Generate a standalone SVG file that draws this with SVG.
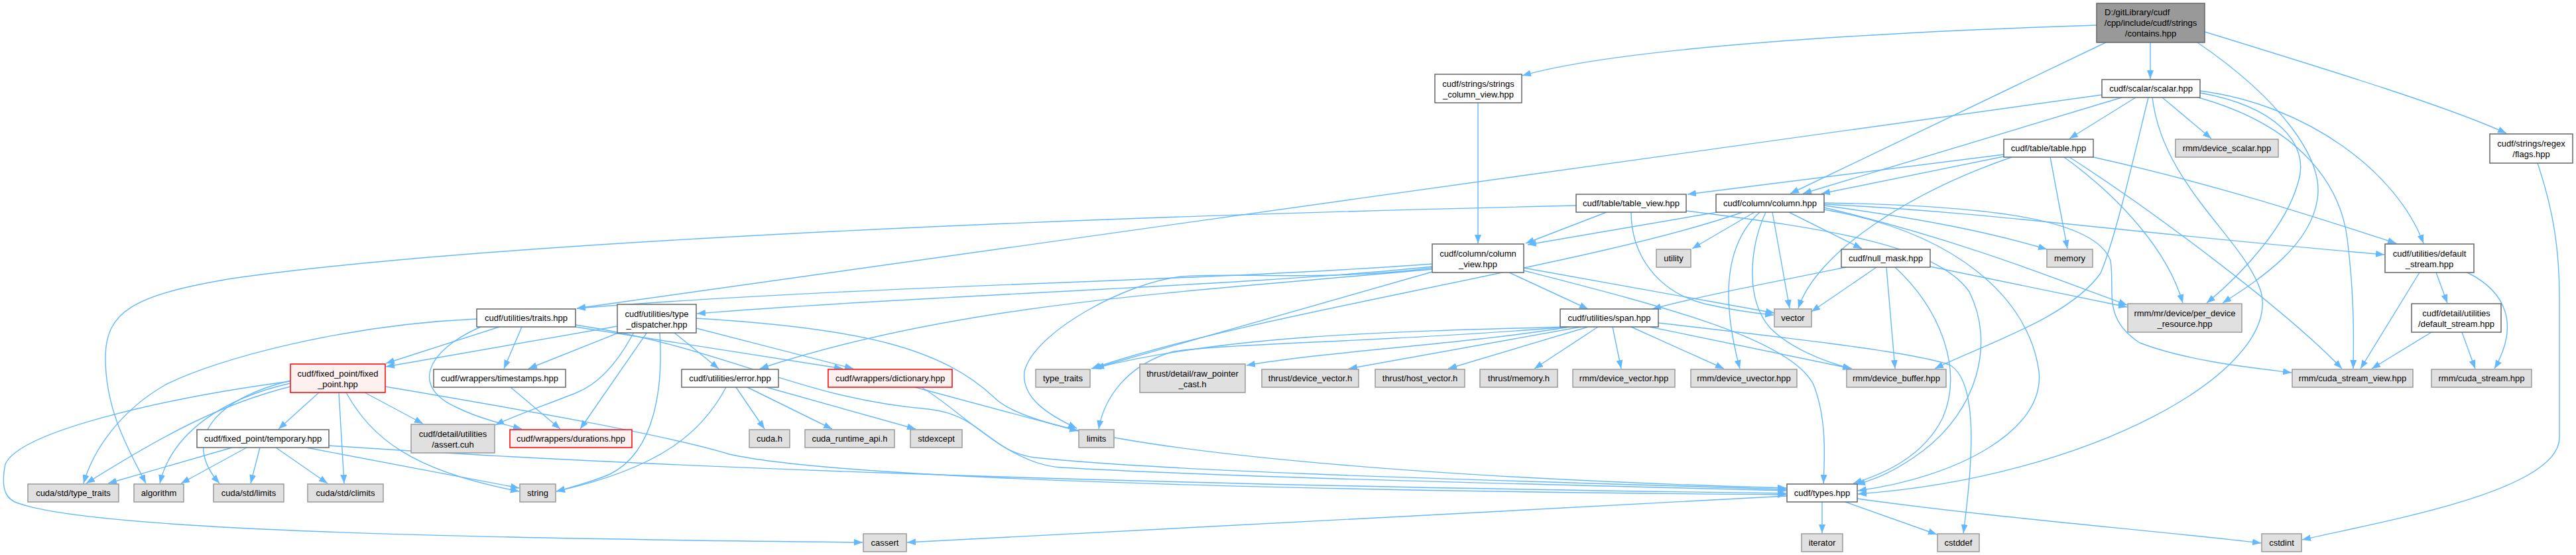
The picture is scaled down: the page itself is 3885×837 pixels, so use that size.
<svg xmlns="http://www.w3.org/2000/svg" width="3885" height="837" viewBox="0 0 3885 837">
<style>
rect{stroke-width:1.5}
.w rect{fill:#fff;stroke:#666}
.g rect{fill:#e0e0e0;stroke:#999}
.r rect{fill:#fff0f0;stroke:#f00}
.root rect{fill:#999;stroke:#666}
text{font-family:"Liberation Sans",Arial,sans-serif;font-size:13px;fill:#000;text-anchor:middle}
#edges path{fill:none;stroke:#63b8ff;stroke-width:1.4;marker-end:url(#a)}
</style>
<defs>
<marker id="a" viewBox="0 0 13 10" refX="13" refY="5" markerWidth="13" markerHeight="10" markerUnits="userSpaceOnUse" orient="auto"><path d="M0,0 L13,5 L0,10 Z" fill="#63b8ff"/></marker>
</defs>
<rect width="3885" height="837" fill="#fff"/>
<g id="edges">
<path d="M3162,38 C2850,48 2450,70 2296,114"/>
<path d="M3176,64 L2700,292"/>
<path d="M3243,64 L3243,119"/>
<path d="M3314,64 C3440,150 3505,240 3495,300 C3485,370 3410,420 3352,457"/>
<path d="M3325,48 C3510,105 3690,160 3780,201"/>
<path d="M2229,155 L2229,367"/>
<path d="M3170,143 C2600,222 1400,390 870,465"/>
<path d="M3200,147 L2719,292"/>
<path d="M3221,147 L3121,209"/>
<path d="M3240,147 C3215,250 3190,360 3168,412 C3120,480 2990,520 2918,556"/>
<path d="M3246,147 C3262,280 3385,360 3410,440 C3440,560 3150,720 2802,745"/>
<path d="M3261,147 L3335,209"/>
<path d="M3318,137 C3480,158 3615,260 3655,367"/>
<path d="M3318,140 C3430,160 3485,215 3466,275 C3448,340 3385,410 3328,457"/>
<path d="M3315,147 C3470,190 3530,280 3540,360 C3550,440 3550,500 3549,556"/>
<path d="M3022,233 L2545,293"/>
<path d="M3022,236 L2747,292"/>
<path d="M3034,237 C2880,290 2740,380 2712,465"/>
<path d="M3092,237 L3118,375"/>
<path d="M3113,237 C3200,300 3270,380 3292,457"/>
<path d="M3121,237 C3250,320 3450,470 3532,556"/>
<path d="M3157,237 C3350,280 3500,330 3614,367"/>
<path d="M2423,320 L2301,367"/>
<path d="M2377,310 C1500,330 700,370 350,420 C200,445 159,470 159,540 C159,620 195,680 220,729"/>
<path d="M2460,320 C2460,385 2500,440 2570,458 C2610,467 2640,472 2675,475"/>
<path d="M2543,318 C2760,345 2920,370 2970,440 C3010,520 2980,620 2900,680 C2860,710 2830,722 2800,731"/>
<path d="M2590,320 L2304,369"/>
<path d="M2628,320 C2400,400 1900,470 1646,556"/>
<path d="M2646,320 L2552,375"/>
<path d="M2654,320 C2610,360 2590,430 2624,556"/>
<path d="M2663,320 C2640,370 2630,450 2670,495 C2700,525 2750,545 2792,556"/>
<path d="M2673,320 L2699,465"/>
<path d="M2698,320 L2808,375"/>
<path d="M2751,308 C3000,320 3200,350 3596,384"/>
<path d="M2751,310 C2900,330 3000,350 3087,376"/>
<path d="M2751,306 C3000,310 3160,330 3183,393 C3190,440 3170,480 3227,517 C3300,545 3400,555 3456,562"/>
<path d="M2751,313 C2950,360 3100,420 3208,460"/>
<path d="M2751,316 C2950,350 3060,450 3075,560 C3085,650 2950,720 2802,740"/>
<path d="M2160,398 C1800,425 1300,430 870,465"/>
<path d="M2160,402 C1900,430 1400,445 1051,473"/>
<path d="M2160,406 C1800,440 1450,455 1146,556"/>
<path d="M2160,404 C2000,425 1850,410 1783,417 C1700,425 1560,500 1545,560 C1540,600 1580,625 1624,646"/>
<path d="M2160,410 L1648,556"/>
<path d="M2276,411 L2395,466"/>
<path d="M2298,404 L2676,472"/>
<path d="M2298,408 C2500,460 2700,510 2735,580 C2755,630 2752,690 2750,729"/>
<path d="M2784,403 C2650,430 2550,450 2492,466"/>
<path d="M2830,403 L2732,470"/>
<path d="M2845,403 L2858,556"/>
<path d="M2858,403 C2930,470 2960,560 2930,630 C2900,690 2840,715 2795,729"/>
<path d="M2911,402 L3208,463"/>
<path d="M2384,493 L2034,556"/>
<path d="M2395,493 L2184,556"/>
<path d="M2410,493 L2314,556"/>
<path d="M2432,493 L2445,556"/>
<path d="M2460,493 L2600,556"/>
<path d="M2488,493 L2793,556"/>
<path d="M2501,487 C2700,510 2880,530 2940,550 C2985,575 2975,700 2961,804"/>
<path d="M2362,493 C2100,500 1850,505 1652,555"/>
<path d="M2365,493 C2100,515 1850,518 1770,530 C1700,550 1665,600 1657,647"/>
<path d="M2368,493 C2200,520 2000,530 1880,551"/>
<path d="M2695,748 C2300,770 1700,800 1368,818"/>
<path d="M2748,757 L2748,804"/>
<path d="M2783,757 L2921,806"/>
<path d="M2801,752 C3000,780 3250,800 3410,819"/>
<path d="M3827,246 C3852,320 3860,380 3860,450 L3860,660 C3860,740 3600,785 3472,814"/>
<path d="M3649,411 L3560,556"/>
<path d="M3674,411 L3691,457"/>
<path d="M3721,411 C3780,440 3800,490 3762,556"/>
<path d="M3667,501 L3577,556"/>
<path d="M3713,501 L3733,556"/>
<path d="M719,481 C520,490 330,540 250,580 C180,620 140,680 126,729"/>
<path d="M753,493 L582,548"/>
<path d="M787,493 L760,556"/>
<path d="M725,493 C640,530 620,585 690,615 C720,630 760,640 787,647"/>
<path d="M868,493 L1271,556"/>
<path d="M868,490 C1100,525 1200,600 1400,617 C1480,625 1490,680 1560,690 C1800,715 2400,728 2694,738"/>
<path d="M931,492 L582,553"/>
<path d="M935,501 L797,556"/>
<path d="M956,501 C930,550 900,580 870,592 C820,612 780,625 747,641"/>
<path d="M976,501 L875,647"/>
<path d="M995,501 C1000,580 990,680 920,715 C890,728 860,735 839,741"/>
<path d="M1016,501 L1084,556"/>
<path d="M1050,495 L1287,556"/>
<path d="M1050,480 C1300,495 1420,525 1500,600 C1590,690 2300,725 2694,736"/>
<path d="M1110,584 L1153,647"/>
<path d="M1127,584 L1255,647"/>
<path d="M1156,584 L1381,647"/>
<path d="M1095,584 C1060,650 1000,705 839,741"/>
<path d="M1380,584 L1626,650"/>
<path d="M1390,584 C1450,620 1520,700 1600,705 C1900,722 2400,732 2694,740"/>
<path d="M770,584 L845,647"/>
<path d="M481,592 L420,647"/>
<path d="M438,583 C330,610 240,660 130,729"/>
<path d="M438,578 C340,600 260,650 241,729"/>
<path d="M438,574 C330,600 270,660 331,729"/>
<path d="M438,575 C250,600 30,650 8,700 C0,740 10,755 31,760 C150,800 700,812 1301,818"/>
<path d="M511,592 L519,729"/>
<path d="M522,592 C560,660 620,710 783,741"/>
<path d="M550,592 L638,639"/>
<path d="M581,583 C800,620 1000,655 1100,685 C1300,730 2200,742 2694,746"/>
<path d="M350,675 L163,729"/>
<path d="M372,675 L273,729"/>
<path d="M392,675 L378,729"/>
<path d="M416,675 L494,729"/>
<path d="M462,675 L783,736"/>
<path d="M496,672 C900,700 1600,730 2694,744"/>
</g>
<g id="root" class="root"><rect x="3162" y="5" width="163" height="59"/><text x="3174" y="23" style="text-anchor:start">D:/gitLibrary/cudf</text><text x="3243.5" y="39">/cpp/include/cudf/strings</text><text x="3243.5" y="55">/contains.hpp</text></g>
<g id="scv" class="w"><rect x="2164" y="112" width="131" height="43"/><text x="2229.5" y="130.5">cudf/strings/strings</text><text x="2229.5" y="146.5">_column_view.hpp</text></g>
<g id="scalar" class="w"><rect x="3170" y="120" width="148" height="27"/><text x="3244" y="138">cudf/scalar/scalar.hpp</text></g>
<g id="table" class="w"><rect x="3022" y="210" width="135" height="27"/><text x="3089.5" y="228">cudf/table/table.hpp</text></g>
<g id="dscalar" class="g"><rect x="3281" y="210" width="155" height="27"/><text x="3358.5" y="228">rmm/device_scalar.hpp</text></g>
<g id="flags" class="w"><rect x="3755" y="202" width="125" height="44"/><text x="3817.5" y="220.5">cudf/strings/regex</text><text x="3817.5" y="236.5">/flags.hpp</text></g>
<g id="tview" class="w"><rect x="2377" y="293" width="166" height="27"/><text x="2460" y="311">cudf/table/table_view.hpp</text></g>
<g id="column" class="w"><rect x="2588" y="293" width="163" height="27"/><text x="2669.5" y="311">cudf/column/column.hpp</text></g>
<g id="cview" class="w"><rect x="2160" y="368" width="138" height="43"/><text x="2229" y="386.5">cudf/column/column</text><text x="2229" y="402.5">_view.hpp</text></g>
<g id="utility" class="g"><rect x="2498" y="376" width="52" height="27"/><text x="2524" y="394">utility</text></g>
<g id="nullmask" class="w"><rect x="2777" y="376" width="134" height="27"/><text x="2844" y="394">cudf/null_mask.hpp</text></g>
<g id="memory" class="g"><rect x="3087" y="376" width="69" height="27"/><text x="3121.5" y="394">memory</text></g>
<g id="dstream" class="w"><rect x="3597" y="368" width="134" height="43"/><text x="3664" y="386.5">cudf/utilities/default</text><text x="3664" y="402.5">_stream.hpp</text></g>
<g id="traits" class="w"><rect x="719" y="466" width="149" height="27"/><text x="793.5" y="484">cudf/utilities/traits.hpp</text></g>
<g id="tdisp" class="w"><rect x="931" y="459" width="119" height="43"/><text x="990.5" y="477.5">cudf/utilities/type</text><text x="990.5" y="493.5">_dispatcher.hpp</text></g>
<g id="span" class="w"><rect x="2353" y="466" width="148" height="27"/><text x="2427" y="484">cudf/utilities/span.hpp</text></g>
<g id="vector" class="g"><rect x="2676" y="466" width="56" height="27"/><text x="2704" y="484">vector</text></g>
<g id="perdev" class="g"><rect x="3209" y="458" width="172" height="43"/><text x="3295" y="476.5">rmm/mr/device/per_device</text><text x="3295" y="492.5">_resource.hpp</text></g>
<g id="ddstream" class="w"><rect x="3637" y="458" width="135" height="43"/><text x="3704.5" y="476.5">cudf/detail/utilities</text><text x="3704.5" y="492.5">/default_stream.hpp</text></g>
<g id="fixed" class="r"><rect x="438" y="549" width="143" height="43"/><text x="509.5" y="567.5">cudf/fixed_point/fixed</text><text x="509.5" y="583.5">_point.hpp</text></g>
<g id="timestamps" class="w"><rect x="654" y="557" width="199" height="27"/><text x="753.5" y="575">cudf/wrappers/timestamps.hpp</text></g>
<g id="error" class="w"><rect x="1028" y="557" width="146" height="27"/><text x="1101" y="575">cudf/utilities/error.hpp</text></g>
<g id="dict" class="r"><rect x="1249" y="557" width="187" height="27"/><text x="1342.5" y="575">cudf/wrappers/dictionary.hpp</text></g>
<g id="type_traits" class="g"><rect x="1562" y="557" width="82" height="27"/><text x="1603" y="575">type_traits</text></g>
<g id="rawptr" class="g"><rect x="1719" y="549" width="159" height="43"/><text x="1798.5" y="567.5">thrust/detail/raw_pointer</text><text x="1798.5" y="583.5">_cast.h</text></g>
<g id="tdevvec" class="g"><rect x="1903" y="557" width="146" height="27"/><text x="1976" y="575">thrust/device_vector.h</text></g>
<g id="thostvec" class="g"><rect x="2074" y="557" width="135" height="27"/><text x="2141.5" y="575">thrust/host_vector.h</text></g>
<g id="tmem" class="g"><rect x="2232" y="557" width="117" height="27"/><text x="2290.5" y="575">thrust/memory.h</text></g>
<g id="rdevvec" class="g"><rect x="2372" y="557" width="154" height="27"/><text x="2449" y="575">rmm/device_vector.hpp</text></g>
<g id="rduvec" class="g"><rect x="2550" y="557" width="160" height="27"/><text x="2630" y="575">rmm/device_uvector.hpp</text></g>
<g id="rdbuf" class="g"><rect x="2785" y="557" width="150" height="27"/><text x="2860" y="575">rmm/device_buffer.hpp</text></g>
<g id="csv" class="g"><rect x="3457" y="557" width="182" height="27"/><text x="3548" y="575">rmm/cuda_stream_view.hpp</text></g>
<g id="cs" class="g"><rect x="3667" y="557" width="151" height="27"/><text x="3742.5" y="575">rmm/cuda_stream.hpp</text></g>
<g id="temporary" class="w"><rect x="297" y="648" width="199" height="27"/><text x="396.5" y="666">cudf/fixed_point/temporary.hpp</text></g>
<g id="assert" class="g"><rect x="620" y="640" width="126" height="43"/><text x="683" y="658.5">cudf/detail/utilities</text><text x="683" y="674.5">/assert.cuh</text></g>
<g id="durations" class="r"><rect x="769" y="648" width="184" height="27"/><text x="861" y="666">cudf/wrappers/durations.hpp</text></g>
<g id="cudah" class="g"><rect x="1130" y="648" width="61" height="27"/><text x="1160.5" y="666">cuda.h</text></g>
<g id="cudart" class="g"><rect x="1214" y="648" width="135" height="27"/><text x="1281.5" y="666">cuda_runtime_api.h</text></g>
<g id="stdexcept" class="g"><rect x="1373" y="648" width="78" height="27"/><text x="1412" y="666">stdexcept</text></g>
<g id="limits" class="g"><rect x="1627" y="648" width="53" height="27"/><text x="1653.5" y="666">limits</text></g>
<g id="cstt" class="g"><rect x="42" y="730" width="137" height="27"/><text x="110.5" y="748">cuda/std/type_traits</text></g>
<g id="algorithm" class="g"><rect x="202" y="730" width="75" height="27"/><text x="239.5" y="748">algorithm</text></g>
<g id="cslimits" class="g"><rect x="322" y="730" width="106" height="27"/><text x="375" y="748">cuda/std/limits</text></g>
<g id="csclimits" class="g"><rect x="464" y="730" width="114" height="27"/><text x="521" y="748">cuda/std/climits</text></g>
<g id="string" class="g"><rect x="784" y="730" width="54" height="27"/><text x="811" y="748">string</text></g>
<g id="types" class="w"><rect x="2695" y="730" width="106" height="27"/><text x="2748" y="748">cudf/types.hpp</text></g>
<g id="cassert" class="g"><rect x="1302" y="805" width="65" height="27"/><text x="1334.5" y="823">cassert</text></g>
<g id="iterator" class="g"><rect x="2717" y="805" width="62" height="27"/><text x="2748" y="823">iterator</text></g>
<g id="cstddef" class="g"><rect x="2922" y="805" width="63" height="27"/><text x="2953.5" y="823">cstddef</text></g>
<g id="cstdint" class="g"><rect x="3411" y="805" width="60" height="27"/><text x="3441" y="823">cstdint</text></g>
</svg>
